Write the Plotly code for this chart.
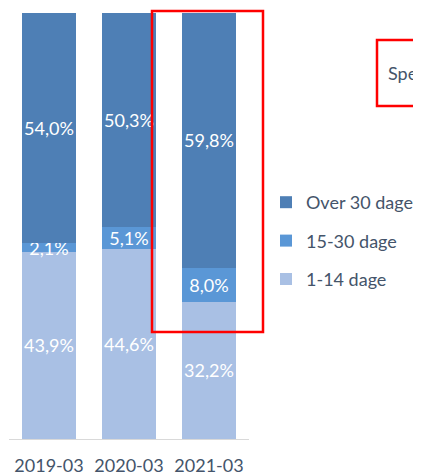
import plotly.graph_objects as go

categories = ["2019-03", "2020-03", "2021-03"]
series_names = ["1-14 dage", "15-30 dage", "Over 30 dage"]
vals_1_14 = [43.9, 44.6, 32.2]
vals_15_30 = [2.1, 5.1, 8.0]
vals_over_30 = [54.0, 50.3, 59.8]
colors = ["#A9C0E4", "#5A97D6", "#4E7FB5"]
legend_ranks = [3, 2, 1]

# page body has an 8px margin; lay out in reference-pixel coordinates
OFF = 8
W, H = 421 - OFF, 476 - OFF
PLOT_L, PLOT_R, PLOT_T, PLOT_B = 9, 249, 13, 439  # reference pixels
L, T = PLOT_L - OFF, PLOT_T - OFF
R, B = W - (PLOT_R - OFF), H - (PLOT_B - OFF)
PW, PH = PLOT_R - PLOT_L, PLOT_B - PLOT_T

def px(x):
    return (x - PLOT_L) / PW

def py(y):
    return (PLOT_B - y) / PH

fig = go.Figure()
for name, vals, col, rk in zip(series_names, [vals_1_14, vals_15_30, vals_over_30], colors, legend_ranks):
    fig.add_trace(go.Bar(
        x=categories, y=vals, name=name,
        marker=dict(color=col, line=dict(width=0)),
        text=[f"{v:.1f}%".replace(".", ",") for v in vals],
        textposition="inside", insidetextanchor="middle",
        textangle=0,
        textfont=dict(color="white", size=18, family="Lato"),
        legendgroup=name, legendrank=rk,
    ))

fig.update_layout(
    width=W, height=H,
    margin=dict(l=L, r=R, t=T, b=B, pad=0, autoexpand=False),
    barmode="stack", bargap=0.32,
    plot_bgcolor="white", paper_bgcolor="white",
    font=dict(family="Lato", color="#44546A", size=18),
    uniformtext=dict(minsize=18, mode="show"),
    showlegend=True,
    legend=dict(
        traceorder="grouped", tracegroupgap=12,
        x=px(266), y=py(184), xanchor="left", yanchor="top",
        font=dict(size=18, color="#44546A", family="Lato"),
        itemwidth=30, bgcolor="rgba(0,0,0,0)",
    ),
    xaxis=dict(
        type="category",
        showgrid=False, zeroline=False, showline=True, linecolor="#D9D9D9", linewidth=1,
        ticks="", ticklabelstandoff=10,
        tickfont=dict(size=18, color="#44546A", family="Lato"),
        fixedrange=True,
    ),
    yaxis=dict(
        range=[0, 100], showgrid=False, zeroline=False, showline=False,
        showticklabels=False, ticks="", fixedrange=True,
    ),
)

fig.add_shape(type="rect", xref="paper", yref="paper",
              x0=px(152), x1=px(263), y0=py(332), y1=py(11),
              line=dict(color="#FF0000", width=2.5), fillcolor="rgba(0,0,0,0)")
fig.add_shape(type="rect", xref="paper", yref="paper",
              x0=px(377), x1=px(440), y0=py(106), y1=py(40),
              line=dict(color="#FF0000", width=2.5), fillcolor="rgba(0,0,0,0)")
fig.add_annotation(xref="paper", yref="paper", x=px(386), y=py(73),
                   xanchor="left", yanchor="middle", showarrow=False,
                   text="Spe", font=dict(size=18, color="#44546A", family="Lato"))

fig.write_html("out.html")
